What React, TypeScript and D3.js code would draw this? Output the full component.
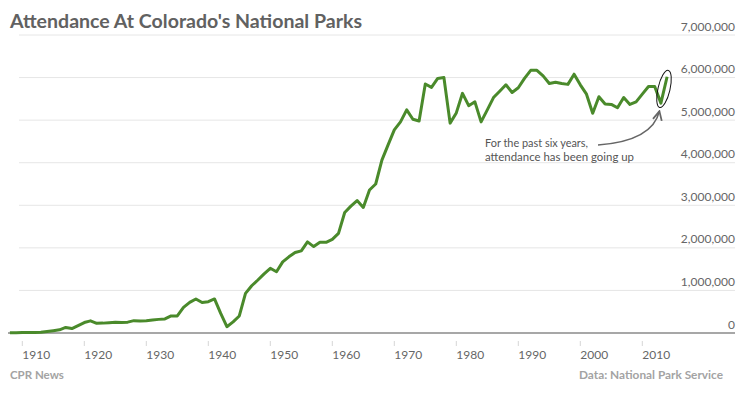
import React from 'react';
import * as d3 from 'd3';

// Visitors to Colorado's national parks, one value per year
const startYear = 1908;
const attendance = [
  5000, 8000, 10000, 10000, 12000, 15000, 35000, 55000, 75000, 130000,
  105000, 175000, 245000, 285000, 228000, 232000, 240000, 250000, 245000, 255000,
  290000, 280000, 290000, 305000, 320000, 330000, 400000, 400000, 600000, 720000,
  800000, 715000, 735000, 800000, 460000, 148000, 260000, 400000, 930000, 1110000,
  1245000, 1390000, 1520000, 1440000, 1670000, 1790000, 1890000, 1930000, 2140000, 2030000,
  2130000, 2130000, 2200000, 2340000, 2830000, 2980000, 3110000, 2950000, 3360000, 3500000,
  4060000, 4420000, 4770000, 4960000, 5240000, 5020000, 4980000, 5850000, 5770000, 5980000,
  6000000, 4930000, 5170000, 5630000, 5340000, 5430000, 4960000, 5240000, 5530000, 5680000,
  5830000, 5650000, 5760000, 5980000, 6170000, 6170000, 6040000, 5860000, 5890000, 5860000,
  5840000, 6080000, 5830000, 5610000, 5160000, 5550000, 5380000, 5370000, 5290000, 5530000,
  5370000, 5430000, 5610000, 5790000, 5790000, 5400000, 6020000,
];
const years = attendance.map((_, i) => startYear + i);

const xTicks = [1910, 1920, 1930, 1940, 1950, 1960, 1970, 1980, 1990, 2000, 2010];
const yTicks = [0, 1000000, 2000000, 3000000, 4000000, 5000000, 6000000, 7000000];

const title = "Attendance At Colorado's National Parks";
const source = 'Data: National Park Service';
const credit = 'CPR News';
const noteLines = ['For the past six years,', 'attendance has been going up'];

const width = 755;
const height = 395;
const font = 'Lato, "Open Sans", sans-serif';

export default function App() {
  const x = d3.scaleLinear().domain([1910, 2010]).range([22.3, 642.3]);
  const y = d3.scaleLinear().domain([0, 7000000]).range([333, 35]);

  const line = d3.line<number>()
    .x((_, i) => x(years[i]))
    .y(d => y(d));

  // last segment gets circled
  const n = attendance.length;
  const ax = x(years[n - 2]);
  const ay = y(attendance[n - 2]);
  const bx = x(years[n - 1]);
  const by = y(attendance[n - 1]);
  const cx = (ax + bx) / 2;
  const cy = (ay + by) / 2 - 1;
  const angle = (Math.atan2(bx - ax, ay - by) * 180) / Math.PI;

  // arrow from the note up to the ellipse
  const tipX = ax - 1.5;
  const tipY = ay + 8;
  const startX = 598;
  const startY = 145;
  const arrowPath = `M${startX},${startY} Q${tipX - 7},${startY - 4} ${tipX},${tipY}`;

  return (
    <svg width={width} height={height} style={{ position: 'absolute', left: 0, top: 0, background: '#fff' }}>
      <defs>
        <marker id="head" viewBox="0 0 10 10" refX="9" refY="5" markerWidth="7" markerHeight="7" orient="auto">
          <path d="M1,1 L9,5 L1,9" fill="none" stroke="#666" strokeWidth="1.6" />
        </marker>
      </defs>

      <text x={10} y={28} fontFamily={font} fontWeight="bold" fontSize={19.5} fill="#616161"
        textLength={352} lengthAdjust="spacingAndGlyphs">{title}</text>

      {/* grid + y labels */}
      {yTicks.map(t => (
        <g key={t}>
          <line
            x1={t === 0 ? 8 : 19}
            x2={735}
            y1={y(t)}
            y2={y(t)}
            stroke={t === 0 ? '#8a8a8a' : '#e6e6e6'}
            strokeWidth={t === 0 ? 1.5 : 1}
          />
          <text x={735} y={y(t) - 4.5} textAnchor="end" fontFamily={font} fontSize={12} fill="#666">
            {d3.format(',')(t)}
          </text>
        </g>
      ))}

      {/* x ticks */}
      {xTicks.map(t => (
        <g key={t}>
          <line x1={x(t)} x2={x(t)} y1={341} y2={346} stroke="#d6d6d6" />
          <text x={x(t)} y={359} fontFamily={font} fontSize={12} fill="#666">{t}</text>
        </g>
      ))}

      <path d={line(attendance) || ''} fill="none" stroke="#4a8a2b" strokeWidth={3} strokeLinejoin="round" />

      <ellipse
        cx={cx}
        cy={cy}
        rx={6}
        ry={19}
        transform={`rotate(${angle} ${cx} ${cy})`}
        fill="none"
        stroke="#111"
        strokeWidth={1}
      />
      <path d={arrowPath} fill="none" stroke="#666" strokeWidth={1.6} markerEnd="url(#head)" />

      {noteLines.map((l, i) => (
        <text key={i} x={485} y={146.5 + i * 14.5} fontFamily={font} fontSize={12} fill="#555"
          textLength={i === 0 ? 103 : 149} lengthAdjust="spacingAndGlyphs">{l}</text>
      ))}

      <text x={10} y={379} fontFamily={font} fontWeight="bold" fontSize={11.5} fill="#a3a3a3">{credit}</text>
      <text x={723} y={379} textAnchor="end" fontFamily={font} fontWeight="bold" fontSize={11.5} fill="#a3a3a3"
        textLength={144} lengthAdjust="spacingAndGlyphs">{source}</text>
    </svg>
  );
}
